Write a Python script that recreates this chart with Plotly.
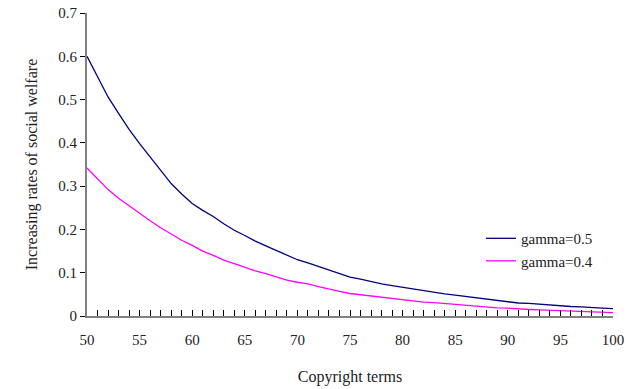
import plotly.graph_objects as go

# Copyright term (years)
terms = list(range(50, 101))

# Increasing rate of social welfare for each gamma
welfare_g05 = [
    0.600, 0.553, 0.506, 0.468, 0.431, 0.398, 0.368, 0.336, 0.306, 0.282,
    0.260, 0.244, 0.230, 0.213, 0.198, 0.186, 0.173, 0.162, 0.151, 0.140,
    0.130, 0.123, 0.115, 0.106, 0.098, 0.090, 0.085, 0.079, 0.074, 0.070,
    0.066, 0.062, 0.058, 0.054, 0.051, 0.048, 0.045, 0.041, 0.038, 0.036,
    0.033, 0.030, 0.029, 0.027, 0.025, 0.023, 0.022, 0.021, 0.019, 0.018,
    0.017,
]
welfare_g04 = [
    0.342, 0.318, 0.292, 0.272, 0.254, 0.237, 0.220, 0.204, 0.189, 0.175,
    0.163, 0.150, 0.140, 0.129, 0.121, 0.113, 0.104, 0.098, 0.090, 0.083,
    0.078, 0.074, 0.068, 0.062, 0.057, 0.052, 0.049, 0.046, 0.043, 0.040,
    0.037, 0.035, 0.032, 0.031, 0.029, 0.026, 0.025, 0.022, 0.020, 0.019,
    0.018, 0.016, 0.015, 0.014, 0.013, 0.012, 0.011, 0.010, 0.010, 0.009,
    0.008,
]

series_names = ["gamma=0.5", "gamma=0.4"]
series_colors = ["#000080", "#FF00FF"]

FONT = "Liberation Serif, Times New Roman, serif"

fig = go.Figure()
for name, vals, col in zip(series_names, [welfare_g05, welfare_g04], series_colors):
    fig.add_trace(go.Scatter(
        x=terms, y=vals, mode="lines", name=name,
        line=dict(color=col, width=1.3),
    ))

fig.update_layout(
    width=634, height=389,
    margin=dict(l=87, r=21, t=13, b=73, autoexpand=False),
    paper_bgcolor="white", plot_bgcolor="white",
    font=dict(family=FONT, size=15, color="#222222"),
    showlegend=True,
    legend=dict(
        x=0.749, y=0.31, xanchor="left", yanchor="top",
        bgcolor="rgba(0,0,0,0)", font=dict(family=FONT, size=15, color="#222222"),
        itemwidth=30, tracegroupgap=4,
    ),
    xaxis=dict(
        range=[50, 100], dtick=5, tick0=50,
        showgrid=False, zeroline=False,
        showline=True, linecolor="#808080", linewidth=2,
        ticks="inside", ticklen=6, tickcolor="black", tickwidth=1,
        ticklabelstandoff=9,
        minor=dict(dtick=1, ticks="inside", ticklen=6, tickcolor="black", tickwidth=1, showgrid=False),
        title=dict(text="Copyright terms", standoff=24, font=dict(family=FONT, size=16)),
        tickfont=dict(family=FONT, size=15),
    ),
    yaxis=dict(
        range=[0, 0.7], dtick=0.1, tick0=0,
        showgrid=False, zeroline=False,
        showline=True, linecolor="#808080", linewidth=2,
        ticks="outside", ticklen=5, tickcolor="black", tickwidth=1,
        title=dict(text="Increasing rates of social welfare", standoff=17, font=dict(family=FONT, size=16)),
        tickfont=dict(family=FONT, size=15),
    ),
)

fig.write_html("out.html")
